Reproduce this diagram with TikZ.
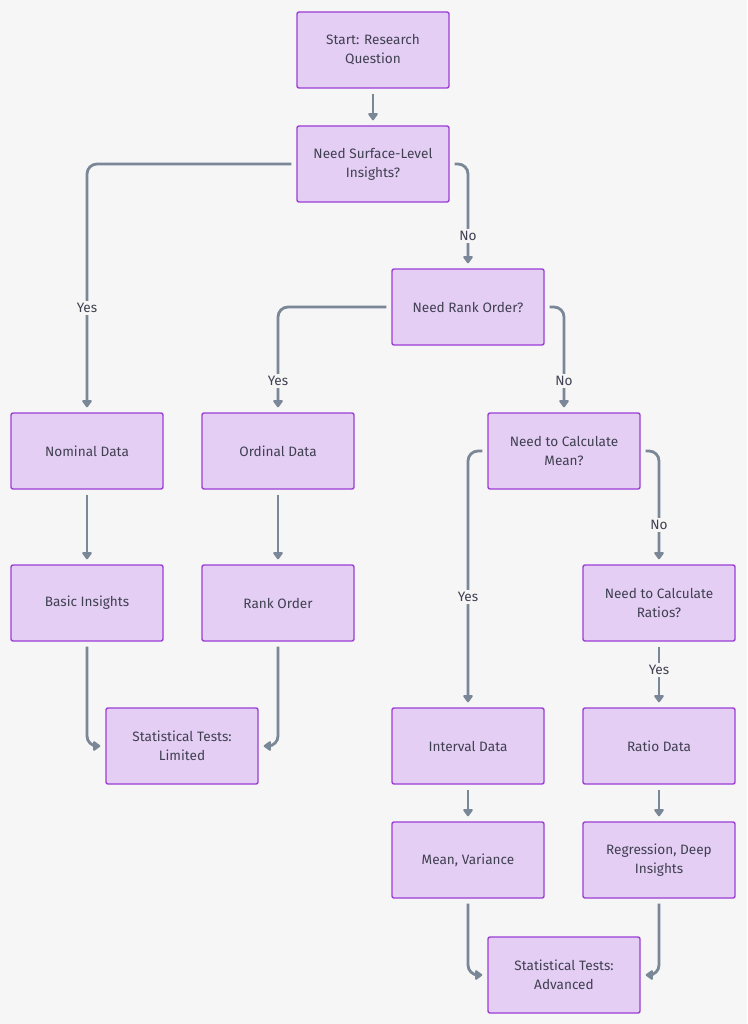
\documentclass[tikz,border=0pt]{standalone}
\usepackage{fontspec}
\setmainfont{Fira Sans}
\usetikzlibrary{arrows.meta}
\definecolor{bgc}{HTML}{F6F6F6}
\definecolor{boxfill}{HTML}{E4CEF3}
\definecolor{boxdraw}{HTML}{9B3DD6}
\definecolor{edgec}{HTML}{7A8796}
\definecolor{txt}{HTML}{404052}
\tikzset{
  box/.style={draw=boxdraw, fill=boxfill, line width=1.4pt, rounded corners=2pt,
    minimum width=152pt, minimum height=76pt, align=center, text=txt,
    font=\fontsize{13.6}{19}\selectfont, inner sep=2pt},
  edge/.style={draw=edgec, line width=2.8pt, rounded corners=10pt,
    shorten <=5pt, shorten >=5pt,
    -{Triangle[length=8pt,width=11pt,round]}},
  lbl/.style={fill=bgc, text=txt, font=\fontsize{13.6}{16}\selectfont, inner sep=2pt}
}
\begin{document}
\begin{tikzpicture}[x=1pt,y=-1pt]
\useasboundingbox[fill=bgc] (0,0) rectangle (747,1024);
\node[box] (start) at (373,50) {Start: Research\\Question};
\node[box] (surf) at (373,164) {Need Surface-Level\\Insights?};
\node[box] (rank) at (468,307) {Need Rank Order?};
\node[box] (nom) at (87,451) {Nominal Data};
\node[box] (ord) at (278,451) {Ordinal Data};
\node[box] (mean) at (564,451) {Need to Calculate\\Mean?};
\node[box] (basic) at (87,603) {Basic Insights};
\node[box] (rko) at (278,603) {Rank Order};
\node[box] (ratios) at (659,603) {Need to Calculate\\Ratios?};
\node[box] (lim) at (182,746) {Statistical Tests:\\Limited};
\node[box] (intv) at (468,746) {Interval Data};
\node[box] (ratio) at (659,746) {Ratio Data};
\node[box] (mv) at (468,860) {Mean, Variance};
\node[box] (reg) at (659,860) {Regression, Deep\\Insights};
\node[box] (adv) at (564,975) {Statistical Tests:\\Advanced};

\draw[edge] (start) -- (surf);
\draw[edge] (surf.west) -| (nom.north);
\draw[edge] (surf.east) -| (rank.north);
\draw[edge] (rank.west) -| (ord.north);
\draw[edge] (rank.east) -| (mean.north);
\draw[edge] (mean.west) -| (intv.north);
\draw[edge] (mean.east) -| (ratios.north);
\draw[edge] (ratios) -- (ratio);
\draw[edge] (nom) -- (basic);
\draw[edge] (ord) -- (rko);
\draw[edge] (basic.south) |- (lim.west);
\draw[edge] (rko.south) |- (lim.east);
\draw[edge] (intv) -- (mv);
\draw[edge] (ratio) -- (reg);
\draw[edge] (mv.south) |- (adv.west);
\draw[edge] (reg.south) |- (adv.east);

\node[lbl] (l1) at (87,308) {Yes};
\node[lbl] (l2) at (468,236) {No};
\node[lbl] (l3) at (278,381) {Yes};
\node[lbl] (l4) at (564,381) {No};
\node[lbl] (l5) at (468,597) {Yes};
\node[lbl] (l6) at (659,525) {No};
\node[lbl] (l7) at (659,670) {Yes};
\end{tikzpicture}
\end{document}
